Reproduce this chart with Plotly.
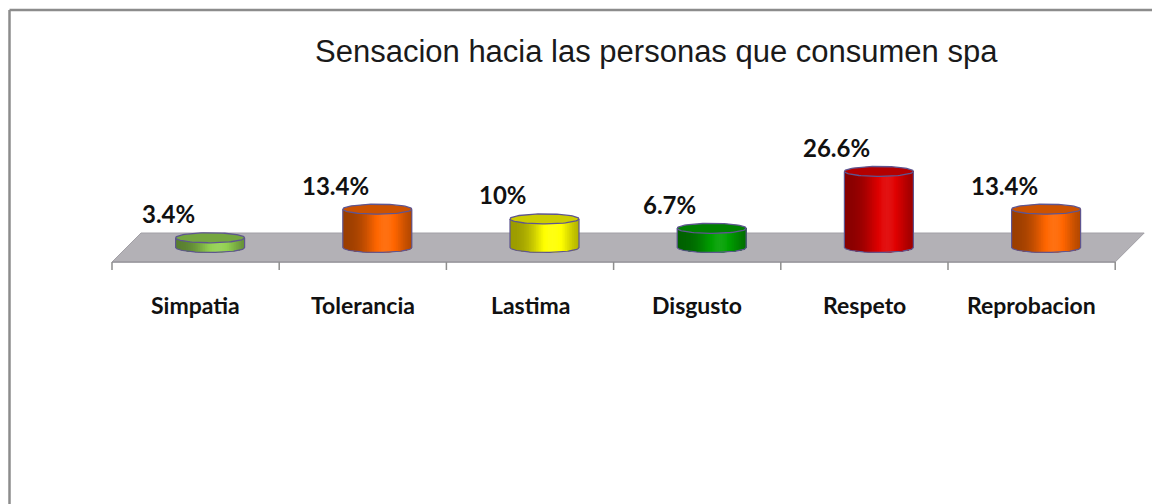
import numpy as np
import plotly.graph_objects as go

# ---------------- data ----------------
categories = ["Simpatia", "Tolerancia", "Lastima", "Disgusto", "Respeto", "Reprobacion"]
values = [3.4, 13.4, 10, 6.7, 26.6, 13.4]
bar_colors = ["#92d050", "#ff6600", "#ffff00", "#00a000", "#e00000", "#ff6600"]
title_text = "Sensacion hacia las personas que consumen spa"

# ---------------- layout constants ----------------
W, H = 1152, 504
PX_X = 167.2      # px per category slot
PX_Y = 2.86       # px per percent
X0_PX = 112       # front-left floor corner
BASE_PX = 247.5   # cylinder base (mid floor depth)
DEPTH_PX = 29
CYL_HALF_W_PX = 34.5
ELL_HALF_H_PX = 5.0

x_range = [-X0_PX / PX_X, (W - X0_PX) / PX_X]
y_range = [-(H - BASE_PX) / PX_Y, BASE_PX / PX_Y]

ddx = DEPTH_PX / PX_X
ddy = DEPTH_PX / PX_Y
a = CYL_HALF_W_PX / PX_X
e = ELL_HALF_H_PX / PX_Y
n = len(categories)

OUTLINE = "#5e5590"
FLOOR = "#b3b1b6"


def hex_rgb(h):
    h = h.lstrip("#")
    return np.array([int(h[i:i + 2], 16) for i in (0, 2, 4)], dtype=float)


def shade(rgb, f):
    if f <= 1:
        c = rgb * f
    else:
        c = rgb + (255 - rgb) * (f - 1)
    c = np.clip(c, 0, 255)
    return "rgb(%d,%d,%d)" % tuple(int(round(v)) for v in c)


fig = go.Figure()

# floor parallelogram
fy = -ddy / 2
by = ddy / 2
fig.add_trace(go.Scatter(
    x=[0, n, n + ddx, ddx, 0], y=[fy, fy, by, by, fy],
    mode="lines", fill="toself", fillcolor=FLOOR,
    line=dict(color="#a2a0a6", width=1), hoverinfo="skip", showlegend=False))
fig.add_trace(go.Scatter(
    x=[0, n], y=[fy, fy], mode="lines",
    line=dict(color="#9a999e", width=1.5), hoverinfo="skip", showlegend=False))

# ticks
tick_len = 8 / PX_Y
tx, ty = [], []
for i in range(n + 1):
    tx += [i, i, None]
    ty += [fy, fy - tick_len, None]
fig.add_trace(go.Scatter(x=tx, y=ty, mode="lines",
                         line=dict(color="#8e8e8e", width=1.5),
                         hoverinfo="skip", showlegend=False))

# cylinders
NSTRIP = 40
for i, (v, col) in enumerate(zip(values, bar_colors)):
    rgb = hex_rgb(col)
    cx = i + 0.5 + ddx / 2
    edges = np.linspace(-1, 1, NSTRIP + 1)
    for k in range(NSTRIP):
        u0 = edges[k]
        t = (u0 + 1 / NSTRIP + 1) / 2
        f = 0.6 + 0.47 * np.exp(-((t - 0.62) / 0.3) ** 2)
        us = np.linspace(1, u0, 30)
        xs = [cx + a * u0, cx + a] + list(cx + a * us)
        ys = [v, v] + list(-e * np.sqrt(np.clip(1 - us ** 2, 0, 1)))
        c = shade(rgb, f)
        fig.add_trace(go.Scatter(x=xs, y=ys, mode="lines", fill="toself",
                                 fillcolor=c, line=dict(width=0),
                                 hoverinfo="skip", showlegend=False))
    # body outline
    uu = np.linspace(-1, 1, 60)
    ox = [cx - a] + list(cx + a * uu) + [cx + a]
    oy = [v] + list(-e * np.sqrt(1 - uu ** 2)) + [v]
    fig.add_trace(go.Scatter(x=ox, y=oy, mode="lines",
                             line=dict(color=OUTLINE, width=1.2),
                             hoverinfo="skip", showlegend=False))
    # top ellipse
    th = np.linspace(0, 2 * np.pi, 90)
    fig.add_trace(go.Scatter(x=cx + a * np.cos(th), y=v + e * np.sin(th),
                             mode="lines", fill="toself",
                             fillcolor=shade(rgb, 0.8),
                             line=dict(color=OUTLINE, width=1.3),
                             hoverinfo="skip", showlegend=False))
    # value label
    fig.add_annotation(x=cx, y=v, xref="x", yref="y",
                       text="<b>%g%%</b>" % v, showarrow=False,
                       xshift=-42, yshift=24,
                       font=dict(family="Lato", size=24, color="#111111"))
    # category label
    fig.add_annotation(x=i + 0.5, y=fy, xref="x", yref="y",
                       text="<b>%s</b>" % categories[i], showarrow=False,
                       yshift=-(305 - 262),
                       font=dict(family="Lato", size=23, color="#111111"))

# title
fig.add_annotation(x=656 / W, y=1 - 52 / H,
                   xref="paper", yref="paper", xanchor="center", yanchor="middle",
                   text=title_text, showarrow=False,
                   font=dict(family="Liberation Sans", size=31, color="#1a1a1a"))

# chart border (top and left edges visible)
bx = 9.5 / W
bty = 1 - 10 / H
fig.add_shape(type="line", xref="paper", yref="paper",
              x0=bx, x1=1, y0=bty, y1=bty,
              line=dict(color="#8c8c8c", width=2.5))
fig.add_shape(type="line", xref="paper", yref="paper",
              x0=bx, x1=bx, y0=0, y1=bty,
              line=dict(color="#8c8c8c", width=2.5))

fig.update_layout(
    width=W, height=H,
    margin=dict(l=0, r=0, t=0, b=0),
    paper_bgcolor="white", plot_bgcolor="white",
    xaxis=dict(range=x_range, visible=False, fixedrange=True),
    yaxis=dict(range=y_range, visible=False, fixedrange=True),
    showlegend=False,
)

fig.write_html(
    "out.html",
    config={"displayModeBar": False},
    post_script=("document.body.style.margin='0';"
                 "document.body.style.overflow='hidden';"
                 "document.documentElement.style.overflow='hidden';"),
)
